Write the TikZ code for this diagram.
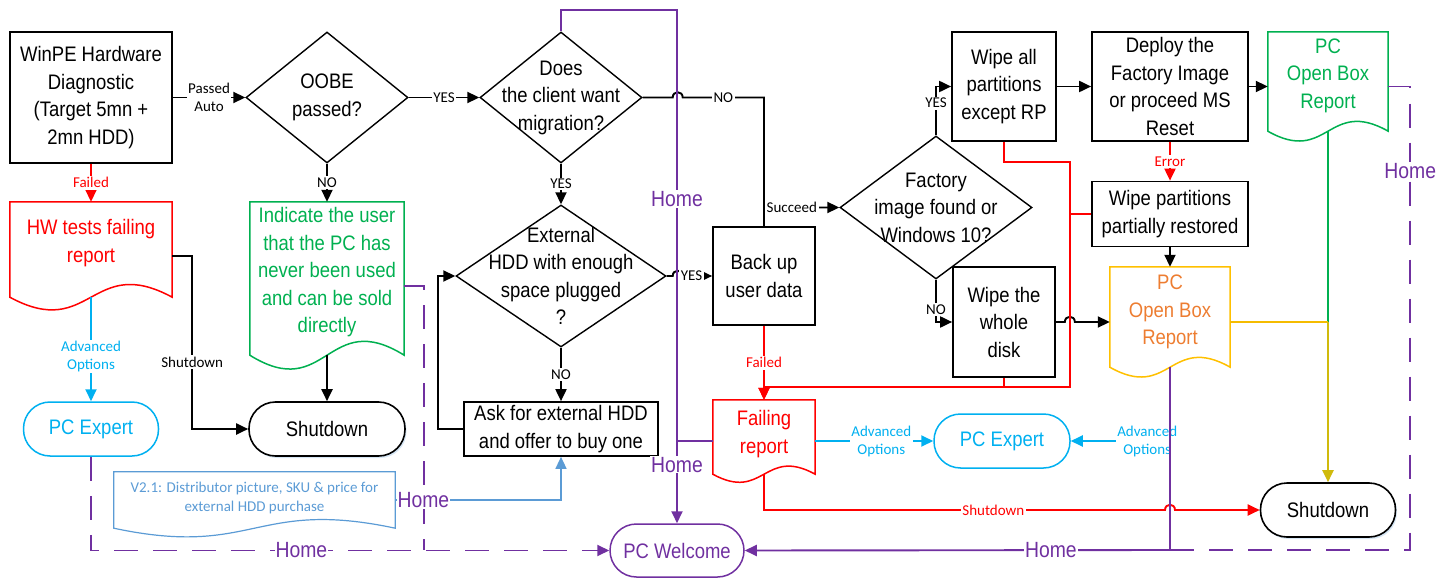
\documentclass[tikz,border=0pt]{standalone}
\usepackage{fontspec}
\setmainfont{Liberation Sans}[FakeStretch=0.88]
\newfontfamily\lblfont{Carlito}
\usetikzlibrary{arrows.meta,calc,shapes.geometric,shadows}
\definecolor{cRed}{HTML}{FF0000}
\definecolor{cGreen}{HTML}{00B050}
\definecolor{cCyan}{HTML}{00B0F0}
\definecolor{cPurple}{HTML}{7030A0}
\definecolor{cOrangeT}{HTML}{ED7D31}
\definecolor{cGold}{HTML}{FFC000}
\definecolor{cGoldLine}{HTML}{F5BC00}
\definecolor{cSteel}{HTML}{5B9BD5}
\newcommand\docoutline[3]{\draw[#3] (#1.south west) -- (#1.north west) -- (#1.north east) -- (#1.south east) .. controls ($(#1.south)+(0,-#2)$) and ($(#1.south)+(0,#2)$) .. (#1.south west) -- cycle;}
\tikzset{
  every node/.style={inner sep=0pt},
  txt/.style={font=\fontsize{21}{27.5}\selectfont, align=center},
  procbox/.style={draw, line width=1.7pt, align=center, font=\fontsize{21}{27.5}\selectfont},
  decision/.style={diamond, draw, line width=1.4pt},
  terminal/.style={draw, rounded corners=26.5pt, line width=1.6pt, font=\fontsize{21}{26}\selectfont},
  termshadow/.style={drop shadow={shadow xshift=1.5pt, shadow yshift=-2pt, opacity=0.25, fill=cSteel}},
  lbl/.style={font=\lblfont\fontsize{15}{18}\selectfont, fill=white, inner sep=1.5pt, align=center},
  homelbl/.style={font=\fontsize{22}{26}\selectfont, text=cPurple, fill=white, inner sep=1pt},
  tip/.style={-{Triangle[length=12pt,width=11pt]}},
  conn/.style={line width=1.9pt},
  dashl/.style={line width=1.9pt, cPurple, dash pattern=on 24pt off 15pt},
}
\begin{document}
\begin{tikzpicture}[x=1pt,y=-1pt, line join=miter]
\useasboundingbox (0,0) rectangle (1449,578);

% process boxes
\node[procbox, minimum width=162, minimum height=131] (winpe) at (91,97.5) {WinPE Hardware\\Diagnostic\\(Target 5mn +\\2mn HDD)};
\node[procbox, minimum width=194, minimum height=54] (ask) at (561,429) {Ask for external HDD\\and offer to buy one};
\node[procbox, minimum width=102, minimum height=98] (backup) at (764,276) {Back up\\user data};
\node[procbox, minimum width=104, minimum height=109] (wipeall) at (1004,86.5) {Wipe all\\partitions\\except RP};
\node[procbox, minimum width=156, minimum height=109] (deploy) at (1170,86.5) {Deploy the\\Factory Image\\or proceed MS\\Reset};
\node[procbox, minimum width=156, minimum height=65] (wipepart) at (1170,214) {Wipe partitions\\partially restored};
\node[procbox, minimum width=102, minimum height=110] (wipewhole) at (1004,322) {Wipe the\\whole\\disk};

% decisions
\node[decision, minimum width=162, minimum height=131] (oobe) at (327,97.5) {};
\node[txt] (oobeT) at (327,97.5) {OOBE\\passed?};
\node[decision, minimum width=162, minimum height=131] (does) at (561,97.5) {};
\node[txt] (doesT) at (561,97.5) {Does\\the client want\\migration?};
\node[decision, minimum width=210, minimum height=142] (exthdd) at (561,276) {};
\node[txt] (exthddT) at (561,276) {External\\HDD with enough\\space plugged\\?};
\node[decision, minimum width=192, minimum height=143] (factory) at (936,207.5) {};
\node[txt] (factoryT) at (936,207.5) {Factory\\image found or\\Windows 10?};

% terminals
\node[terminal, draw=cCyan, text=cCyan, line width=1.5pt, minimum width=135, minimum height=54] (pcexpL) at (91,429) {PC Expert};
\node[terminal, termshadow, fill=white, minimum width=156, minimum height=54] (shutL) at (327,429) {Shutdown};
\node[terminal, draw=cCyan, text=cCyan, line width=1.5pt, minimum width=136, minimum height=54] (pcexpR) at (1002,441) {PC Expert};
\node[terminal, termshadow, fill=white, minimum width=135, minimum height=54] (shutR) at (1328,510) {Shutdown};
\node[terminal, draw=cPurple, text=cPurple, line width=1.5pt, minimum width=134, minimum height=53] (welcome) at (677,550.5) {PC Welcome};

% documents
\node[minimum width=162, minimum height=95] (hwdoc) at (91,249.5) {};
\docoutline{hwdoc}{44}{draw=cRed, line width=1.5pt}
\node[txt, text=cRed] (hwT) at (91,243) {HW tests failing\\report};

\node[minimum width=154, minimum height=153] (greendoc) at (327,278.5) {};
\docoutline{greendoc}{48}{draw=cGreen, line width=1.5pt}
\node[txt, text=cGreen] (greenT) at (327,272.5) {Indicate the user\\that the PC has\\never been used\\and can be sold\\directly};

\node[minimum width=102, minimum height=74] (failrep) at (764,437) {};
\docoutline{failrep}{28}{draw=cRed, line width=1.5pt}
\node[txt, text=cRed] (failT) at (764,434) {Failing\\report};

\node[minimum width=120, minimum height=100] (orangedoc) at (1170,317) {};
\docoutline{orangedoc}{34}{draw=cGold, line width=1.5pt}
\node[txt, text=cOrangeT] (orangeT) at (1170,312) {PC\\Open Box\\Report};

\node[minimum width=120, minimum height=99] (greenrep) at (1328,81.5) {};
\docoutline{greenrep}{34}{draw=cGreen, line width=1.5pt}
\node[txt, text=cGreen] (greenrepT) at (1328,75.5) {PC\\Open Box\\Report};

\node[minimum width=281, minimum height=56] (v21doc) at (254.5,500) {};
\docoutline{v21doc}{30}{draw=cSteel, line width=1.2pt}
\node[font=\lblfont\fontsize{15}{19}\selectfont, text=cSteel, align=center] (v21T) at (254.5,497.5) {V2.1: Distributor picture, SKU \& price for\\external HDD purchase};

% purple dashed returns (drawn first)
\coordinate (jL) at (424,550);
\coordinate (jR) at (1170,550);
\draw[dashl] ($(greendoc.east)+(0,7.5)$) -| (jL);
\draw[dashl, tip] (pcexpL.south) |- node[homelbl, pos=0.703]{Home} (welcome.west);
\draw[dashl] (deploy.east -| greenrep.east) -- ++(22,0) |- node[homelbl, pos=0.091]{Home} (jR);

% left column
\draw[conn, cRed, tip] (winpe.south) -- node[lbl, text=cRed]{Failed} (hwdoc.north);
\draw[conn, tip] (winpe.east) -- node[lbl]{Passed\\Auto} (oobe.west);
\draw[conn, cCyan, tip] (hwdoc.south) -- node[lbl, text=cCyan, pos=0.57]{Advanced\\Options} (pcexpL.north);
\draw[conn, tip] ($(hwdoc.east)+(0,6.5)$) -- ++(20,0) |- node[lbl, pos=0.306]{Shutdown} (shutL.west);
\draw[conn, tip] (oobe.south) -- node[lbl]{NO} (greendoc.north);
\draw[conn, tip] (greendoc.south) -- (shutL.north);
\draw[conn, tip] (oobe.east) -- node[lbl]{YES} (does.west);
\draw[conn, tip] (does.south) -- node[lbl]{YES} (exthdd.north);
\draw[conn, tip] (exthdd.south) -- node[lbl]{NO} (ask.north);
\draw[conn, tip] (ask.west) -- ++(-25,0) |- (exthdd.west);

% middle
\draw[conn, tip] (exthdd.east) -- ++(6,0) .. controls +(0,-7) and +(0,-7) .. ++(10,0) -- node[lbl, pos=0.3]{YES} (backup.west);
\draw[conn, tip] (does.east) -- ++(30,0) .. controls +(0,-7) and +(0,-7) .. ++(10,0) -- node[lbl]{NO} (backup.north |- does.east) -- (backup.north |- factory.west) -- node[lbl, pos=0.37]{Succeed} (factory.west);
\draw[conn] (backup.north) -- (backup.north |- factory.west);
\draw[conn, tip] (factory.north) |- node[lbl, pos=0.33]{YES} (wipeall.west);
\draw[conn, tip] (factory.south) |- node[lbl, pos=0.35]{NO} (wipewhole.west);

% right
\draw[conn, tip] (wipeall.east) -- (deploy.west);
\draw[conn, tip] (deploy.east) -- (deploy.east -| greenrep.west);
\draw[conn, cRed, tip] (deploy.south) -- node[lbl, text=cRed]{Error} (wipepart.north);
\draw[conn, tip] (wipepart.south) -- (orangedoc.north);
\draw[conn, tip] (wipewhole.east) -- ++(9,0) .. controls +(0,-7) and +(0,-7) .. ++(10,0) -- (wipewhole.east -| orangedoc.west);

% red failure routes
\coordinate (rj) at (1070,387);
\draw[conn, cRed, tip] (wipeall.south) -- ++(0,20) -| (rj) -| (failrep.north);
\draw[conn, cRed] (wipepart.west) -- (wipepart.west -| rj);
\draw[conn, cRed] (wipewhole.south) -- (wipewhole.south |- rj);
\draw[conn, cRed, tip] (backup.south) -- node[lbl, text=cRed]{Failed} (failrep.north);
\coordinate (hopS) at (1165,510);
\draw[conn, cRed, tip] (failrep.south) |- node[lbl, text=cRed, pos=0.786]{Shutdown} (hopS) .. controls +(0,-7) and +(0,-7) .. ++(10,0) -- (shutR.west);

% advanced options
\draw[conn, cCyan, tip] (failrep.east |- pcexpR.west) -- node[lbl, text=cCyan, pos=0.56]{Advanced\\Options} (pcexpR.west);
\draw[conn, cCyan, tip] (jR |- pcexpR.east) -- node[lbl, text=cCyan, pos=0.23]{Advanced\\Options} (pcexpR.east);

% open box reports to shutdown
\coordinate (jG) at (1328,322);
\draw[conn, cGreen] (greenrep.south) -- (jG);
\draw[conn, cGoldLine, line width=2pt] (wipewhole.east -| orangedoc.east) -- (jG);
\draw[conn, cGoldLine!85!cGreen, line width=2pt, tip] (jG) -- (shutR.north);

% purple home routes
\draw[conn, cPurple, tip] (does.north) -- ++(0,-21) -| node[homelbl, pos=0.684]{Home} node[homelbl, pos=0.943]{Home} (welcome.north);
\draw[conn, cPurple] (failrep.west |- pcexpR.west) -- (welcome.north |- pcexpR.west);
\draw[conn, cPurple, tip] (orangedoc.south) -- (jR) -- node[homelbl, pos=0.28]{Home} (welcome.east);

% V2.1 note
\draw[conn, cSteel, line width=1.5pt, tip] (v21doc.east) -| node[homelbl, pos=0.085]{Home} (ask.south);
\end{tikzpicture}
\end{document}
